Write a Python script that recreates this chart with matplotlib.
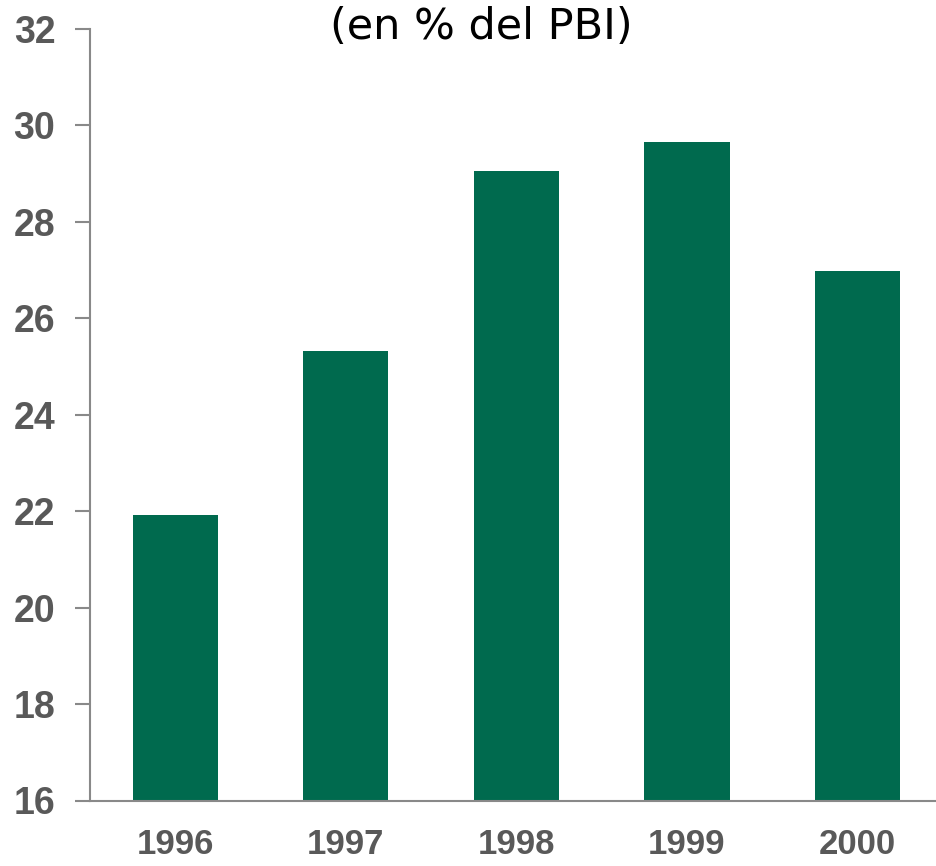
import matplotlib
matplotlib.use("Agg")
import matplotlib.pyplot as plt

# Daten
years = ["1996", "1997", "1998", "1999", "2000"]
values = [21.93, 25.33, 29.06, 29.66, 26.98]
y_ticks = [16, 18, 20, 22, 24, 26, 28, 30, 32]

bar_color = "#006A4E"
axis_color = "#898989"
label_color = "#595959"

fig = plt.figure(figsize=(9.36, 8.66), dpi=100)
ax = fig.add_axes([90 / 936, 1 - 800.5 / 866, 1 - 90 / 936, (800.5 - 29) / 866])

x = range(len(years))
ax.bar(x, values, width=0.5, color=bar_color)

ax.set_xlim(-0.5, 4.46)
ax.set_ylim(16, 32)
ax.set_yticks(y_ticks)
ax.set_xticks(list(x))
ax.set_xticklabels(years)

for side in ["top", "right"]:
    ax.spines[side].set_visible(False)
for side in ["left", "bottom"]:
    ax.spines[side].set_color(axis_color)
    ax.spines[side].set_linewidth(1.5)

ax.tick_params(axis="y", length=11, width=1.5, color=axis_color, pad=14)
ax.tick_params(axis="x", length=0, pad=20)

for lbl in ax.get_yticklabels():
    lbl.set_fontfamily("Liberation Sans")
    lbl.set_fontweight("bold")
    lbl.set_fontsize(27)
    lbl.set_color(label_color)
for lbl in ax.get_xticklabels():
    lbl.set_fontfamily("Liberation Sans")
    lbl.set_fontweight("bold")
    lbl.set_fontsize(25)
    lbl.set_color(label_color)

fig.text(481 / 936, 1 - 27 / 866, "(en % del PBI)", ha="center", va="center",
         fontsize=31, family="DejaVu Sans", color="black")

fig.savefig("out.png", dpi=100)
